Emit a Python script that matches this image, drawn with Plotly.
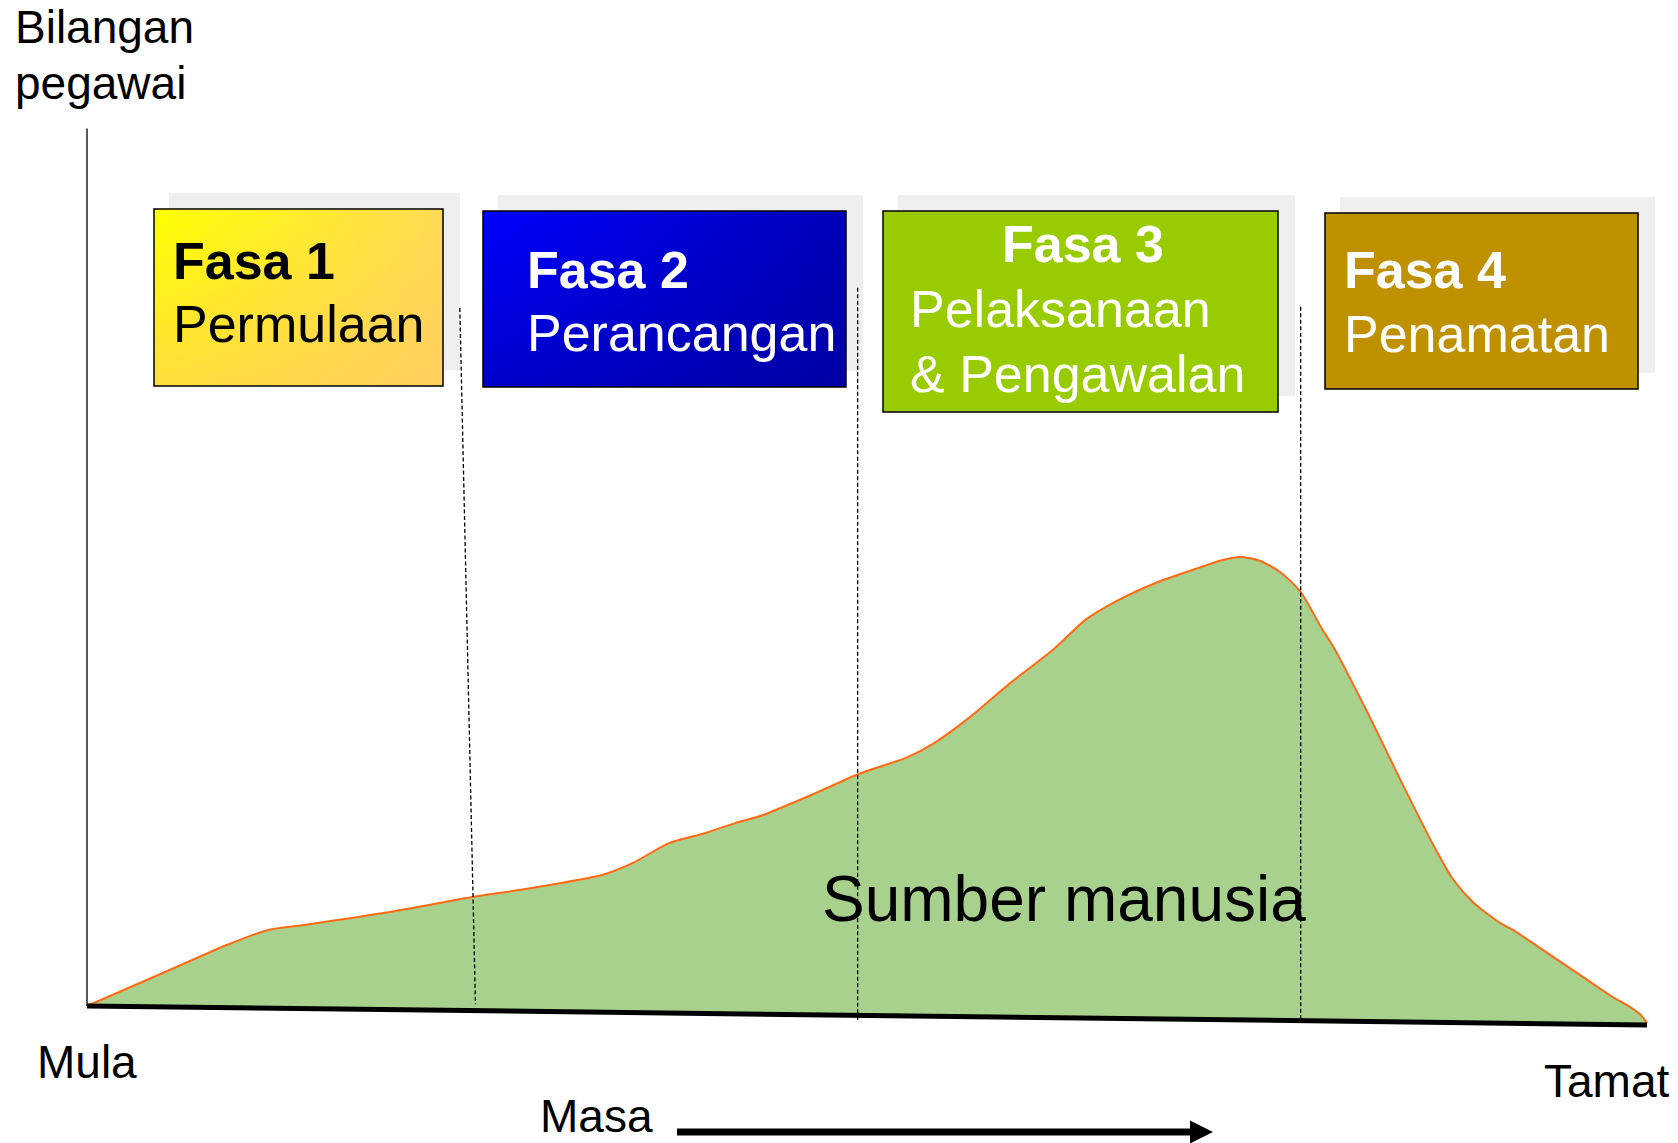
import plotly.graph_objects as go

W, H = 1678, 1143

# masa: 0 = Mula, 100 = Tamat ; pegawai: bilangan pegawai (unit relatif, puncak ~100)
masa = [0, 5.3, 9.0, 11.6, 13.9, 19.6, 24.7, 28.1, 33.0, 35.0, 37.3, 39.6, 41.6,
        43.3, 46.7, 49.5, 52.6, 54.2, 56.6, 59.2, 61.9, 64.0, 65.9, 68.5, 71.2,
        72.8, 73.9, 75.2, 76.5, 77.8, 79.2, 79.9, 82.1, 84.2, 86.3, 87.6, 88.9,
        90.6, 91.4, 93.6, 95.7, 97.8, 98.9, 99.6, 100]
pegawai = [0, 8.0, 13.6, 16.9, 18.0, 21.0, 24.2, 26.0, 29.1, 31.8, 36.2, 38.4, 40.7,
           42.4, 47.3, 51.6, 55.3, 58.2, 64.2, 71.8, 79.1, 85.8, 89.8, 94.0, 97.3,
           99.1, 99.8, 98.9, 96.4, 92.0, 83.6, 79.8, 65.1, 50.2, 35.8, 28.0, 22.9,
           18.4, 16.9, 11.8, 6.9, 2.0, -0.2, -2.0, -3.8]

# paksi masa (sedikit condong ke bawah)
garis_masa = [0, 100]
garis_pegawai = [0, -4.2]
paksi_y_atas = 195

# sempadan fasa (garis putus-putus)
sempadan_atas_t = [23.9, 49.4, 77.8]
sempadan_bawah_t = [24.9, 49.4, 77.8]
sempadan_atas_h = [155.1, 159.6, 155.4]
sempadan_bawah_h = [0.4, -3.6, -3.1]

fasa_tajuk = ["Fasa 1", "Fasa 2", "Fasa 3", "Fasa 4"]
fasa_nama = [["Permulaan"], ["Perancangan"], ["Pelaksanaan", "& Pengawalan"], ["Penamatan"]]
label_y = ["Bilangan", "pegawai"]
label_mula, label_tamat, label_masa = "Mula", "Tamat", "Masa"
label_kawasan = "Sumber manusia"

FONT = "Liberation Sans, Arial, sans-serif"

fig = go.Figure()

# ---- carta utama ----
fig.add_trace(go.Scatter(x=garis_masa, y=garis_pegawai, mode="lines",
                         line=dict(width=0, color="black"), hoverinfo="skip"))
fig.add_trace(go.Scatter(x=masa, y=pegawai, mode="lines", fill="tonexty",
                         fillcolor="#A9D18E",
                         line=dict(color="#FF6A13", width=2, shape="spline", smoothing=0.7),
                         hoverinfo="skip"))
fig.add_trace(go.Scatter(x=garis_masa, y=garis_pegawai, mode="lines",
                         line=dict(width=5, color="black"), hoverinfo="skip"))
fig.add_trace(go.Scatter(x=[0, 0], y=[0, paksi_y_atas], mode="lines",
                         line=dict(width=1.5, color="#222222"), hoverinfo="skip"))
for i in range(len(sempadan_atas_t)):
    fig.add_trace(go.Scatter(x=[sempadan_atas_t[i], sempadan_bawah_t[i]],
                             y=[sempadan_atas_h[i], sempadan_bawah_h[i]], mode="lines",
                             line=dict(width=1.3, color="black", dash="4px,2.5px"),
                             hoverinfo="skip"))

# ---- kotak fasa (koordinat piksel pada paksi x2/y2) ----
kotak = [(154, 209, 443, 386), (483, 211, 846, 387), (883, 211, 1278, 412), (1325, 213, 1638, 389)]
isi = [
    ("grad", ["#FFFF00", "#FFDA55"], "rgba(255,200,100,0.6)"),
    ("grad", ["#0000FF", "#0000B8"], "rgba(0,0,140,0.45)"),
    ("solid", "#99CC00", None),
    ("solid", "#BF9000", None),
]
shapes = []
for (x0, y0, x1, y1), (jenis, warna, atas) in zip(kotak, isi):
    # bayang
    shapes.append(dict(type="rect", xref="x2", yref="y2", x0=x0 + 15, y0=y0 - 16,
                       x1=x1 + 17, y1=y1 - 16, fillcolor="#EFEFEF", line=dict(width=0),
                       layer="below"))
    xs = [x0, x1, x1, x0, x0]
    ys = [y0, y0, y1, y1, y0]
    if jenis == "grad":
        fig.add_trace(go.Scatter(x=xs, y=ys, xaxis="x2", yaxis="y2", mode="lines",
                                 fill="toself", line=dict(width=0),
                                 fillgradient=dict(type="horizontal",
                                                   colorscale=[[0, warna[0]], [1, warna[1]]]),
                                 hoverinfo="skip"))
        r = atas
        fig.add_trace(go.Scatter(x=xs, y=ys, xaxis="x2", yaxis="y2", mode="lines",
                                 fill="toself", line=dict(width=0),
                                 fillgradient=dict(type="vertical",
                                                   colorscale=[[0, r], [1, r.rsplit(",", 1)[0] + ",0)"]]),
                                 hoverinfo="skip"))
    else:
        fig.add_trace(go.Scatter(x=xs, y=ys, xaxis="x2", yaxis="y2", mode="lines",
                                 fill="toself", fillcolor=warna, line=dict(width=0),
                                 hoverinfo="skip"))
    shapes.append(dict(type="rect", xref="x2", yref="y2", x0=x0, y0=y0, x1=x1, y1=y1,
                       line=dict(color="black", width=1.5), fillcolor="rgba(0,0,0,0)",
                       layer="above"))

# anak panah masa
shapes.append(dict(type="line", xref="x2", yref="y2", x0=677, y0=1132, x1=1193, y1=1132,
                   line=dict(color="black", width=7), layer="above"))
shapes.append(dict(type="path", xref="x2", yref="y2",
                   path="M 1190 1120.5 L 1213 1132 L 1190 1143.5 Z",
                   fillcolor="black", line=dict(color="black", width=0), layer="above"))

annotations = []


def teks(s, x, baseline, size, color="black", xanchor="left"):
    annotations.append(dict(text=s, x=x, y=baseline - 0.3465 * size, xref="x2", yref="y2",
                            xanchor=xanchor, yanchor="middle", showarrow=False,
                            font=dict(family=FONT, size=size, color=color)))


warna_teks = ["black", "white", "white", "white"]
kiri = [171, 525, 908, 1342]
tajuk_base = [279, 288, 262, 288]
nama_base = [[342], [351], [327, 392], [352]]
for i in range(4):
    if i == 2:
        teks("<b>" + fasa_tajuk[i] + "</b>", 1083, tajuk_base[i], 52, warna_teks[i], "center")
    else:
        teks("<b>" + fasa_tajuk[i] + "</b>", kiri[i], tajuk_base[i], 52, warna_teks[i])
    for baris, b in zip(fasa_nama[i], nama_base[i]):
        teks(baris, kiri[i], b, 52, warna_teks[i])

teks(label_y[0], 13, 43, 46)
teks(label_y[1], 13, 99, 46)
teks(label_mula, 35, 1078, 46)
teks(label_tamat, 1671, 1097, 46, xanchor="right")
teks(label_masa, 538, 1132, 46)
teks(label_kawasan, 820, 921, 64)

fig.update_layout(
    width=W, height=H,
    margin=dict(l=0, r=0, t=0, b=0),
    paper_bgcolor="white", plot_bgcolor="white",
    showlegend=False,
    font=dict(family=FONT),
    xaxis=dict(range=[-87 / 15.6, (W - 87) / 15.6], visible=False, domain=[0, 1]),
    yaxis=dict(range=[-(H - 1006) / 4.5, 1006 / 4.5], visible=False, domain=[0, 1]),
    xaxis2=dict(range=[0, W], visible=False, overlaying="x"),
    yaxis2=dict(range=[H, 0], visible=False, overlaying="y"),
    shapes=shapes,
    annotations=annotations,
)

fig.write_html("out.html", config={"displayModeBar": False},
               post_script="document.body.style.margin='0';")
